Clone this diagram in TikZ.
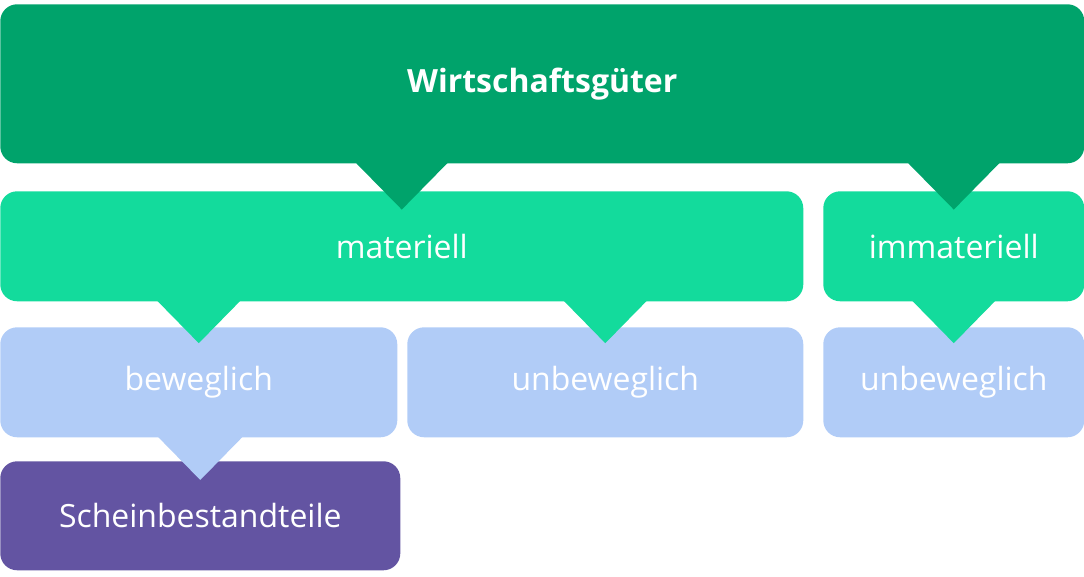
\documentclass[tikz,border=0pt]{standalone}
\usepackage{fontspec}
\setmainfont{Open Sans}
\usetikzlibrary{calc}

\begin{document}
\begin{tikzpicture}[font=\fontsize{22.75}{27}\selectfont,
  box/.style={rounded corners=12pt, anchor=north west, inner sep=0pt, text=white, minimum height=2.75cm},
]
\definecolor{wgDark}{HTML}{00A36B}
\definecolor{wgLight}{HTML}{13DB9C}
\definecolor{wgBlue}{HTML}{B1CCF7}
\definecolor{wgPurple}{HTML}{6354A2}
\useasboundingbox (0,0) rectangle (27.1,-14.4);
% ---- boxes ----
\node[box, fill=wgDark, minimum width=27.1cm, minimum height=3.975cm, font=\fontsize{22.75}{27}\selectfont\bfseries] (top) at (0,-0.1) {Wirtschaftsgüter};
\node[box, fill=wgLight, minimum width=20.075cm] (mat) at (0,-4.775) {materiell};
\node[box, fill=wgLight, minimum width=6.525cm] (imm) at (20.575,-4.775) {immateriell};
\node[box, fill=wgBlue, minimum width=9.925cm] (bew) at (0,-8.175) {beweglich};
\node[box, fill=wgBlue, minimum width=9.9cm] (unbA) at (10.175,-8.175) {unbeweglich};
\node[box, fill=wgBlue, minimum width=6.525cm] (unbB) at (20.575,-8.175) {unbeweglich};
\node[box, fill=wgPurple, minimum width=10cm, minimum height=2.725cm] (schein) at (0,-11.525) {Scheinbestandteile};
% ---- pointers ----
\fill[wgDark] (mat.north |- top.south) ++(-1.15,0.02) -- ++(1.15,-1.17) -- ++(1.15,1.17) -- cycle;
\fill[wgDark] (imm.north |- top.south) ++(-1.15,0.02) -- ++(1.15,-1.17) -- ++(1.15,1.17) -- cycle;
\fill[wgLight] (bew.north |- mat.south) ++(-1.04,0.02) -- ++(1.04,-1.06) -- ++(1.04,1.06) -- cycle;
\fill[wgLight] (unbA.north |- mat.south) ++(-1.04,0.02) -- ++(1.04,-1.06) -- ++(1.04,1.06) -- cycle;
\fill[wgLight] (unbB.north |- imm.south) ++(-1.04,0.02) -- ++(1.04,-1.06) -- ++(1.04,1.06) -- cycle;
\fill[wgBlue] (schein.north |- bew.south) ++(-1.06,0.02) -- ++(1.06,-1.08) -- ++(1.06,1.08) -- cycle;
\end{tikzpicture}
\end{document}
